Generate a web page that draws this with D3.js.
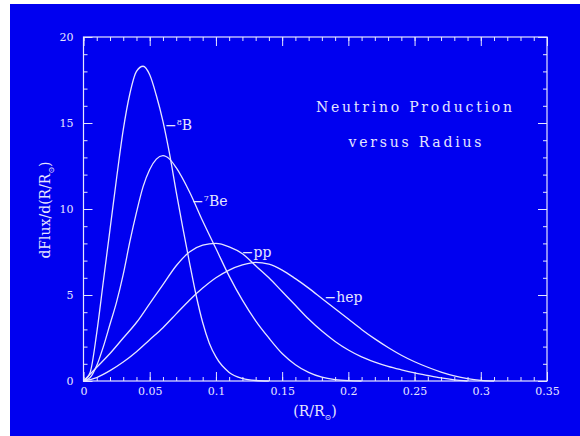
<!DOCTYPE html>
<html>
<head>
<meta charset="utf-8">
<script src="https://cdn.jsdelivr.net/npm/d3@7"></script>
<style>
  html, body { margin: 0; padding: 0; background: #ffffff; }
  svg { display: block; }
  text { font-family: "DejaVu Serif", "Liberation Serif", serif; fill: #e6e6ff; }
</style>
</head>
<body>
<svg id="chart" width="580" height="436"></svg>
<script>
// Fractional radius grids and production profiles for each neutrino source
const xB8 = [0, 0.005, 0.01, 0.015, 0.02, 0.025, 0.03, 0.035, 0.04, 0.045, 0.05, 0.055, 0.06, 0.065, 0.07, 0.075, 0.08, 0.085, 0.09, 0.095, 0.1, 0.11, 0.12, 0.13, 0.14];
const yB8 = [0, 0.5, 2.8, 5.8, 8.8, 11.8, 14.6, 16.7, 18.0, 18.3, 17.8, 16.6, 15.1, 13.2, 11.0, 8.9, 6.9, 5.0, 3.4, 2.2, 1.4, 0.5, 0.15, 0.03, 0];

const xBe7 = [0, 0.005, 0.01, 0.015, 0.02, 0.025, 0.03, 0.035, 0.04, 0.045, 0.05, 0.055, 0.06, 0.065, 0.07, 0.08, 0.09, 0.1, 0.11, 0.12, 0.13, 0.14, 0.15, 0.16, 0.17, 0.18, 0.19, 0.2, 0.21];
const yBe7 = [0, 0.2, 0.9, 2.0, 3.3, 4.6, 6.2, 8.1, 9.8, 11.3, 12.3, 12.9, 13.1, 12.9, 12.4, 11.0, 9.3, 7.7, 6.1, 4.7, 3.5, 2.5, 1.6, 0.95, 0.5, 0.22, 0.08, 0.02, 0];

const xPP = [0, 0.01, 0.02, 0.03, 0.04, 0.05, 0.06, 0.07, 0.08, 0.09, 0.1, 0.11, 0.12, 0.13, 0.14, 0.15, 0.16, 0.17, 0.18, 0.19, 0.2, 0.21, 0.22, 0.23, 0.24, 0.25, 0.26, 0.27, 0.28, 0.29];
const yPP = [0, 0.8, 1.6, 2.5, 3.4, 4.5, 5.6, 6.7, 7.5, 7.9, 8.0, 7.8, 7.4, 6.7, 6.0, 5.2, 4.4, 3.6, 2.9, 2.3, 1.8, 1.4, 1.1, 0.85, 0.65, 0.47, 0.32, 0.18, 0.07, 0];

const xHep = [0, 0.01, 0.02, 0.03, 0.04, 0.05, 0.06, 0.07, 0.08, 0.09, 0.1, 0.11, 0.12, 0.13, 0.14, 0.15, 0.16, 0.17, 0.18, 0.19, 0.2, 0.21, 0.22, 0.23, 0.24, 0.25, 0.26, 0.27, 0.28, 0.29, 0.3, 0.31];
const yHep = [0, 0.2, 0.6, 1.1, 1.7, 2.4, 3.1, 3.9, 4.7, 5.4, 6.0, 6.45, 6.75, 6.9, 6.8, 6.45, 5.95, 5.4, 4.8, 4.2, 3.6, 3.0, 2.45, 1.95, 1.5, 1.12, 0.8, 0.52, 0.3, 0.14, 0.04, 0];

const seriesNames = ["B8", "Be7", "pp", "hep"];

const xTicks = [0, 0.05, 0.1, 0.15, 0.2, 0.25, 0.3, 0.35];
const xTickLabels = ["0", "0.05", "0.1", "0.15", "0.2", "0.25", "0.3", "0.35"];
const yTicks = [0, 5, 10, 15, 20];
const yTickLabels = ["0", "5", "10", "15", "20"];

const ink = "#e6e6ff";
const svg = d3.select("#chart");

// blue panel with a thin white margin on the top and left
svg.append("rect").attr("x", 10).attr("y", 4).attr("width", 570).attr("height", 432).attr("fill", "#0000f0");

const x = d3.scaleLinear().domain([0, 0.35]).range([83.5, 547]);
const y = d3.scaleLinear().domain([0, 20]).range([381, 37]);

const g = svg.append("g");

// frame
g.append("rect")
  .attr("x", x(0)).attr("y", y(20))
  .attr("width", x(0.35) - x(0)).attr("height", y(0) - y(20))
  .attr("fill", "none").attr("stroke", ink).attr("stroke-width", 1.2);

const minorX = d3.range(0, 0.3501, 0.01);
const minorY = d3.range(0, 20.01, 1);

function styleAxis(sel) {
  sel.select(".domain").remove();
  sel.selectAll("line").attr("stroke", ink).attr("stroke-width", 1);
  sel.selectAll("text").attr("fill", ink).style("font-size", "11px")
    .style("font-family", "'DejaVu Serif', 'Liberation Serif', serif");
}

// bottom axis: inward ticks with labels
g.append("g").attr("transform", `translate(0,${y(0)})`)
  .call(d3.axisBottom(x).tickValues(minorX).tickSize(-4).tickFormat(""))
  .call(styleAxis);
g.append("g").attr("transform", `translate(0,${y(0)})`)
  .call(d3.axisBottom(x).tickValues(xTicks).tickSize(-9).tickPadding(6)
    .tickFormat((d, i) => xTickLabels[i]))
  .call(styleAxis);

// top axis
g.append("g").attr("transform", `translate(0,${y(20)})`)
  .call(d3.axisTop(x).tickValues(minorX).tickSize(-4).tickFormat(""))
  .call(styleAxis);
g.append("g").attr("transform", `translate(0,${y(20)})`)
  .call(d3.axisTop(x).tickValues(xTicks).tickSize(-9).tickFormat(""))
  .call(styleAxis);

// left axis
g.append("g").attr("transform", `translate(${x(0)},0)`)
  .call(d3.axisLeft(y).tickValues(minorY).tickSize(-4).tickFormat(""))
  .call(styleAxis);
g.append("g").attr("transform", `translate(${x(0)},0)`)
  .call(d3.axisLeft(y).tickValues(yTicks).tickSize(-9).tickPadding(10)
    .tickFormat((d, i) => yTickLabels[i]))
  .call(styleAxis);

// right axis
g.append("g").attr("transform", `translate(${x(0.35)},0)`)
  .call(d3.axisRight(y).tickValues(minorY).tickSize(-4).tickFormat(""))
  .call(styleAxis);
g.append("g").attr("transform", `translate(${x(0.35)},0)`)
  .call(d3.axisRight(y).tickValues(yTicks).tickSize(-9).tickFormat(""))
  .call(styleAxis);

// production curves
const line = d3.line().x(d => x(d[0])).y(d => y(d[1])).curve(d3.curveMonotoneX);
const curves = [
  [xB8, yB8], [xBe7, yBe7], [xPP, yPP], [xHep, yHep]
];
curves.forEach(([xs, ys], i) => {
  g.append("path")
    .datum(xs.map((v, k) => [v, ys[k]]))
    .attr("class", "curve-" + seriesNames[i])
    .attr("fill", "none").attr("stroke", ink).attr("stroke-width", 1.3)
    .attr("d", line);
});

// curve labels: a short dash pointing at each curve
function curveLabel(px, py, sup, main) {
  const t = g.append("text").attr("x", px).attr("y", py)
    .style("font-size", "14px");
  t.append("tspan").text("\u2212");
  if (sup) t.append("tspan").attr("dy", -5).style("font-size", "8px").text(sup);
  t.append("tspan").attr("dy", sup ? 5 : 0).text(main);
}
curveLabel(x(0.0615), y(14.6), "8", "B");
curveLabel(x(0.082), y(10.2), "7", "Be");
curveLabel(x(0.1195), y(7.2), "", "pp");
curveLabel(x(0.182), y(4.6), "", "hep");

// title block
g.append("text").attr("x", 414).attr("y", 112).attr("text-anchor", "middle")
  .attr("textLength", 196).attr("lengthAdjust", "spacing")
  .style("font-size", "14px").text("Neutrino Production");
g.append("text").attr("x", 415).attr("y", 147).attr("text-anchor", "middle")
  .attr("textLength", 133).attr("lengthAdjust", "spacing")
  .style("font-size", "14px").text("versus Radius");

// x axis title
const xt = g.append("text").attr("x", 315).attr("y", 416).attr("text-anchor", "middle")
  .style("font-size", "14px");
xt.append("tspan").text("(R/R");
xt.append("tspan").attr("dy", 4).style("font-size", "8px").text("\u2299");
xt.append("tspan").attr("dy", -4).text(")");

// y axis title
const yt = g.append("text").attr("transform", "translate(50,210) rotate(-90)")
  .attr("text-anchor", "middle").style("font-size", "14px");
yt.append("tspan").text("dFlux/d(R/R");
yt.append("tspan").attr("dy", 4).style("font-size", "8px").text("\u2299");
yt.append("tspan").attr("dy", -4).text(")");
</script>
</body>
</html>
